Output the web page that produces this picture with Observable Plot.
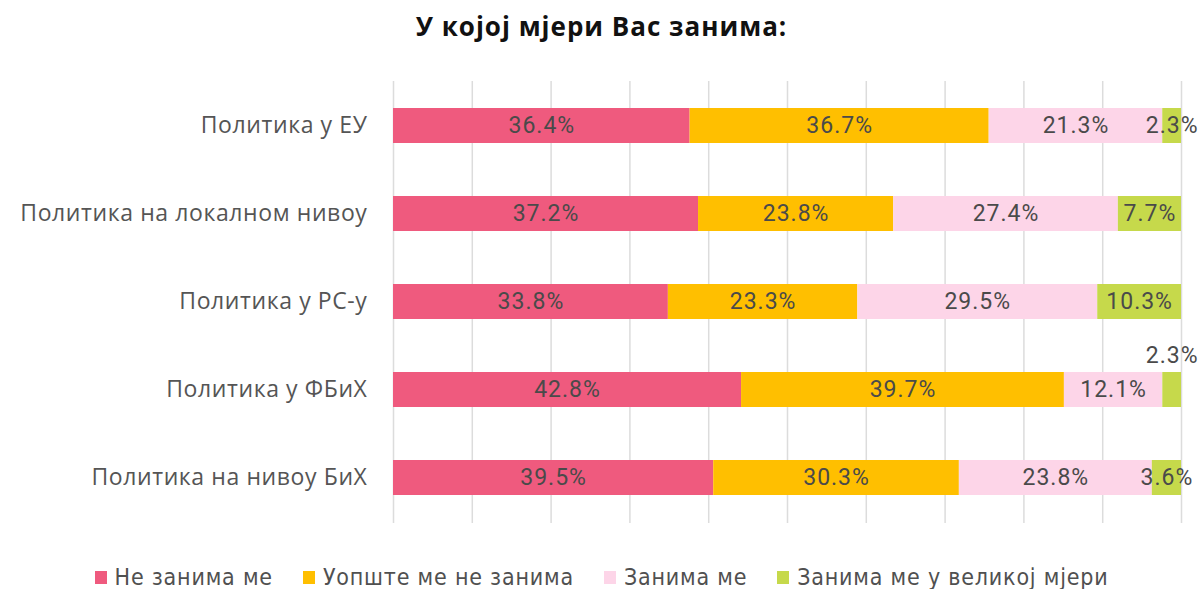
<!DOCTYPE html>
<html>
<head>
<meta charset="utf-8">
<script src="https://cdn.jsdelivr.net/npm/d3@7"></script>
<script src="https://cdn.jsdelivr.net/npm/@observablehq/plot@0.6"></script>
<style>
  html, body { margin: 0; padding: 0; background: #fff; }
  #wrap { position: relative; width: 1203px; height: 589px; overflow: hidden; }
  #title { position: absolute; left: 0; top: 12px; width: 1203px; text-align: center;
           font: bold 26px "Open Sans", "DejaVu Sans", sans-serif; letter-spacing: 1px; color: #111; line-height: 28px; }
  #chart { position: absolute; left: 0; top: 60px; }
  #legend { position: absolute; left: 0; top: 565px; width: 1203px; display: flex; justify-content: center;
            font: 23px "DejaVu Sans Condensed", "Liberation Sans Narrow", sans-serif; letter-spacing: 0.8px; color: #505050; line-height: 24px; }
  .item { display: flex; align-items: center; margin: 0 15px; }
  .sw { width: 12px; height: 13px; margin-right: 8px; }
</style>
</head>
<body>
<div id="wrap">
  <div id="title">У којој мјери Вас занима:</div>
  <div id="chart"></div>
  <div id="legend"></div>
</div>
<script>
const categories = ["Политика у ЕУ", "Политика на локалном нивоу", "Политика у РС-у", "Политика у ФБиХ", "Политика на нивоу БиХ"];
const series = ["Не занима ме", "Уопште ме не занима", "Занима ме", "Занима ме у великој мјери"];
const colors = ["#ef5a7e", "#ffbf00", "#fdd5e8", "#c6d94b"];
const notInterested = [36.4, 37.2, 33.8, 42.8, 39.5];
const notAtAll = [36.7, 23.8, 23.3, 39.7, 30.3];
const interested = [21.3, 27.4, 29.5, 12.1, 23.8];
const veryInterested = [2.3, 7.7, 10.3, 2.3, 3.6];
const xTicks = [0, 0.1, 0.2, 0.3, 0.4, 0.5, 0.6, 0.7, 0.8, 0.9, 1];
// label drawn above its bar instead of inside it
const liftedLabels = [["Политика у ФБиХ", "Занима ме у великој мјери"]];

const seriesValues = [notInterested, notAtAll, interested, veryInterested];
const data = [];
categories.forEach((c, i) => {
  series.forEach((s, j) => data.push({cat: c, series: s, value: seriesValues[j][i]}));
});
const isLifted = d => liftedLabels.some(([c, s]) => c === d.cat && s === d.series);
const fmt = d => d.value.toFixed(1) + "%";

const stackOpts = extra => Plot.stackX({offset: "normalize", order: series, x: "value", y: "cat", z: "series", ...extra});

const chart = Plot.plot({
  width: 1203,
  height: 490,
  marginLeft: 393,
  marginRight: 22,
  marginTop: 21,
  marginBottom: 27,
  style: {fontFamily: "Roboto, 'DejaVu Sans', sans-serif", background: "white"},
  x: {domain: [0, 1], axis: null},
  y: {domain: categories, paddingInner: 0.6, paddingOuter: 0.3, axis: null},
  color: {domain: series, range: colors},
  marks: [
    Plot.gridX(xTicks, {stroke: "#dcdcdc", strokeOpacity: 1, strokeWidth: 1.5}),
    Plot.barX(data, stackOpts({fill: "series"})),
    Plot.textX(data, stackOpts({text: d => isLifted(d) ? "" : fmt(d), fill: "#4a4a4a", fontSize: 23, className: "vlab"})),
    Plot.textX(data, stackOpts({text: d => isLifted(d) ? fmt(d) : "", fill: "#4a4a4a", fontSize: 23, dy: -34, className: "vlab"})),
    Plot.axisY({tickSize: 0, tickPadding: 26, fontSize: 23, fill: "#555", label: null, className: "ylab"})
  ]
});
chart.querySelectorAll(".vlab text").forEach(t => { t.style.letterSpacing = "1px"; });
chart.querySelectorAll(".ylab text").forEach(t => {
  t.style.fontFamily = "'Open Sans', 'DejaVu Sans', sans-serif";
  t.style.letterSpacing = "0.6px";
});
document.getElementById("chart").appendChild(chart);

const legend = document.getElementById("legend");
series.forEach((s, i) => {
  const item = document.createElement("div");
  item.className = "item";
  const sw = document.createElement("span");
  sw.className = "sw";
  sw.style.background = colors[i];
  const lab = document.createElement("span");
  lab.textContent = s;
  item.appendChild(sw);
  item.appendChild(lab);
  legend.appendChild(item);
});
</script>
</body>
</html>
